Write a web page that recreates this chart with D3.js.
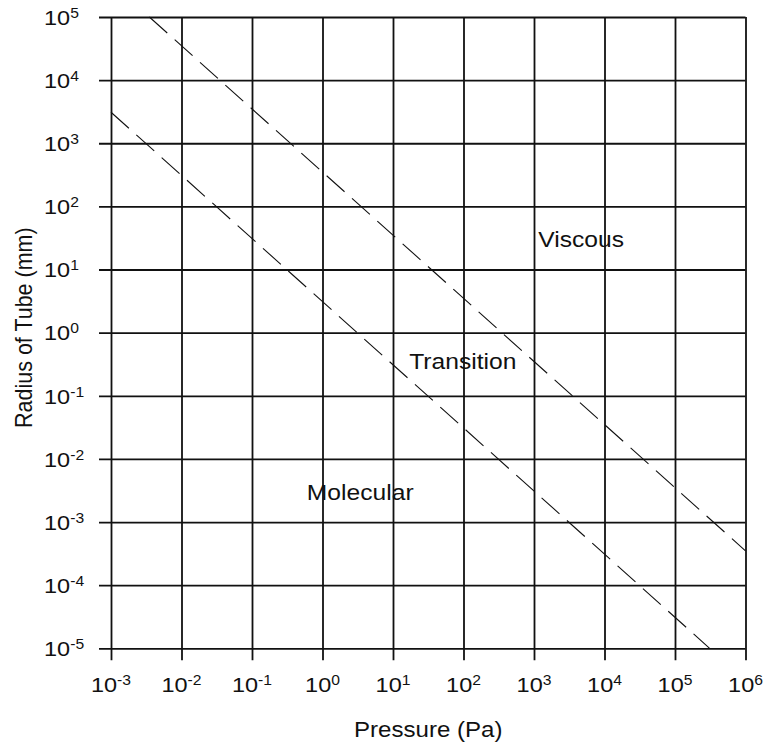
<!DOCTYPE html>
<html>
<head>
<meta charset="utf-8">
<script src="https://cdn.jsdelivr.net/npm/d3@7"></script>
<style>
  html, body { margin: 0; padding: 0; background: #fff; }
  svg { display: block; }
  text { font-family: "Liberation Sans", Arial, sans-serif; fill: #111; }
</style>
</head>
<body>
<svg id="chart" width="770" height="745"></svg>
<script>
// Decade ticks for both log axes (exponents of ten)
const pressureExponents = [-3, -2, -1, 0, 1, 2, 3, 4, 5, 6];
const radiusExponents = [-5, -4, -3, -2, -1, 0, 1, 2, 3, 4, 5];

// Regime boundaries, p·r = constant (Pa·mm)
const viscousBoundary = [[3.5e-3, 1e5], [1e6, 3.5e-4]];     // p·r ≈ 350
const molecularBoundary = [[1e-3, 3.1e3], [3.1e5, 1e-5]];   // p·r ≈ 3.1

// Flow regime labels, anchored at their left baseline
const regionNames = ["Viscous", "Transition", "Molecular"];
const regionPressure = [1.15e3, 17, 0.6];
const regionRadius = [23, 0.27, 0.0022];

const xTitle = "Pressure (Pa)";
const yTitle = "Radius of Tube (mm)";

// Layout
const plot = { left: 111, right: 745.5, top: 17, bottom: 648.3 };
const tickOut = 12;
const stretch = 1.12;   // text is drawn slightly wide

const svg = d3.select("#chart");

const x = d3.scaleLog().domain([1e-3, 1e6]).range([plot.left, plot.right]);
const y = d3.scaleLog().domain([1e-5, 1e5]).range([plot.bottom, plot.top]);

const pressureTicks = pressureExponents.map(e => Math.pow(10, e));
const radiusTicks = radiusExponents.map(e => Math.pow(10, e));

// Vertical grid lines (extending below the plot as tick marks)
const xAxis = d3.axisBottom(x)
  .tickValues(pressureTicks)
  .tickSizeInner(plot.bottom - plot.top + tickOut)
  .tickSizeOuter(0)
  .tickFormat(() => "");
const gx = svg.append("g").attr("transform", `translate(0,${plot.top})`).call(xAxis);
gx.select(".domain").remove();
gx.selectAll(".tick line").attr("stroke", "#111").attr("stroke-width", 1.8);
gx.selectAll(".tick text").remove();

// Horizontal grid lines (extending left of the plot as tick marks)
const yAxis = d3.axisLeft(y)
  .tickValues(radiusTicks)
  .tickSizeInner(plot.right - plot.left + tickOut)
  .tickSizeOuter(0)
  .tickFormat(() => "");
const gy = svg.append("g").attr("transform", `translate(${plot.right},0)`).call(yAxis);
gy.select(".domain").remove();
gy.selectAll(".tick line").attr("stroke", "#111").attr("stroke-width", 1.8);
gy.selectAll(".tick text").remove();

// Power-of-ten label: "10" with a raised exponent
function powerLabel(sel, exp) {
  sel.append("tspan").attr("font-size", 21).text("10");
  sel.append("tspan").attr("font-size", 14).attr("dy", -7).text(String(exp));
}

// x tick labels, centred under each tick
svg.append("g").selectAll("text")
  .data(pressureExponents)
  .join("text")
  .attr("transform", d => `translate(${x(Math.pow(10, d))},${plot.bottom + 43.5}) scale(${stretch},1)`)
  .attr("text-anchor", "middle")
  .each(function (d) { powerLabel(d3.select(this), d); });

// y tick labels, left aligned, digits centred on each grid line
svg.append("g").selectAll("text")
  .data(radiusExponents)
  .join("text")
  .attr("transform", d => `translate(44,${y(Math.pow(10, d)) + 7.8}) scale(${stretch},1)`)
  .attr("text-anchor", "start")
  .each(function (d) { powerLabel(d3.select(this), d); });

// Dashed regime boundaries
const line = d3.line().x(d => x(d[0])).y(d => y(d[1]));
svg.append("g").selectAll("path")
  .data([viscousBoundary, molecularBoundary])
  .join("path")
  .attr("d", line)
  .attr("fill", "none")
  .attr("stroke", "#111")
  .attr("stroke-width", 1.1)
  .attr("stroke-dasharray", "24,10");

// Regime names
svg.append("g").selectAll("text")
  .data(regionNames)
  .join("text")
  .attr("transform", (d, i) => `translate(${x(regionPressure[i])},${y(regionRadius[i])}) scale(${stretch},1)`)
  .attr("font-size", 22)
  .text(d => d);

// Axis titles
svg.append("text")
  .attr("transform", `translate(${(plot.left + plot.right) / 2},737) scale(${stretch},1)`)
  .attr("text-anchor", "middle")
  .attr("font-size", 21.5)
  .text(xTitle);

svg.append("text")
  .attr("transform", `translate(31.5,${(plot.top + plot.bottom) / 2 - 5}) scale(${stretch},1) rotate(-90)`)
  .attr("text-anchor", "middle")
  .attr("font-size", 21.5)
  .text(yTitle);
</script>
</body>
</html>
